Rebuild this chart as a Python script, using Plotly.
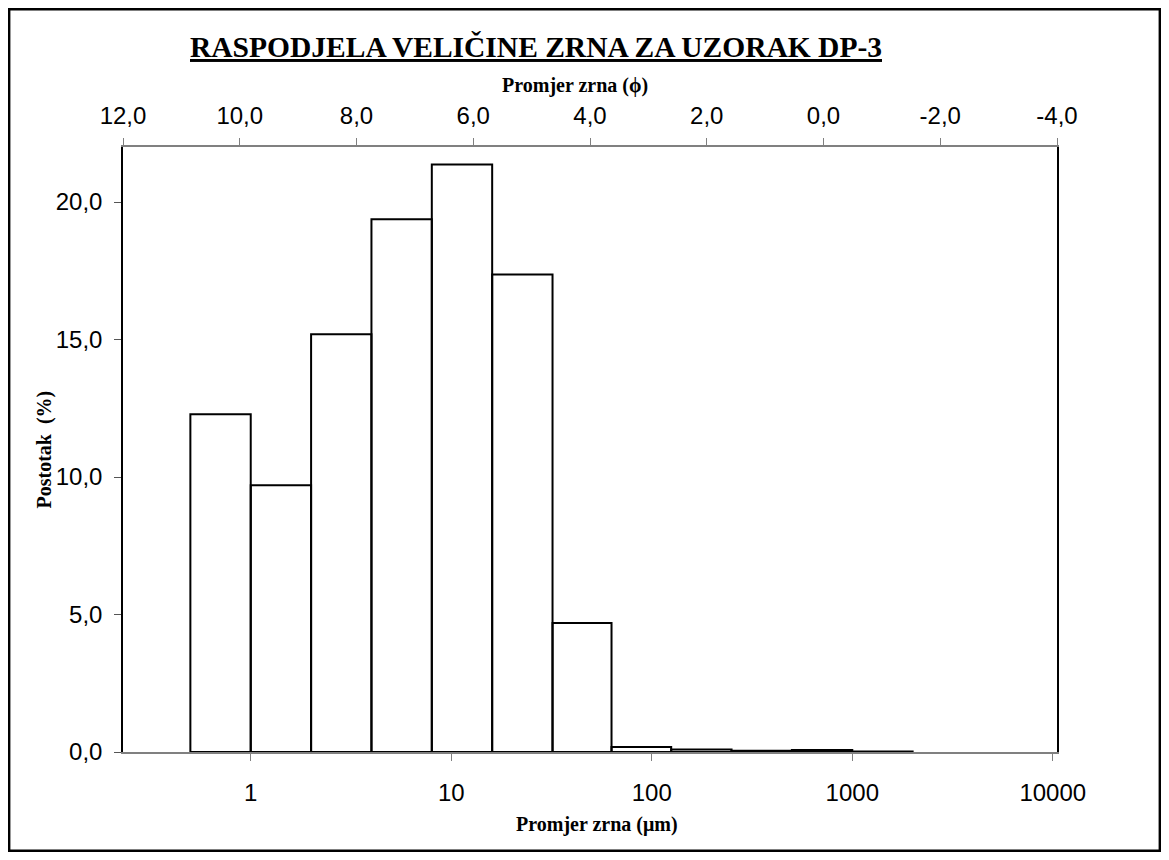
import plotly.graph_objects as go

# ---- data ----
bin_edges_um = [0.5, 1, 2, 4, 8, 16, 32, 63, 125, 250, 500, 1000, 2000]
percent = [12.28, 9.70, 15.19, 19.37, 21.36, 17.36, 4.69, 0.18, 0.09, 0.05, 0.07, 0.02]

um_ticks = [1, 10, 100, 1000, 10000]
um_ticklabels = ["1", "10", "100", "1000", "10000"]
phi_ticks = [12, 10, 8, 6, 4, 2, 0, -2, -4]
phi_ticklabels = ["12,0", "10,0", "8,0", "6,0", "4,0", "2,0", "0,0", "-2,0", "-4,0"]
pct_ticks = [0, 5, 10, 15, 20]

title_text = "RASPODJELA VELIČINE ZRNA ZA UZORAK DP-3"
x_title = "Promjer zrna (μm)"
x2_title = "Promjer zrna (ϕ)"
y_title = "Postotak  (%)"

# ---- build histogram outline from data ----
xs, ys = [], []
for i, v in enumerate(percent):
    lo, hi = bin_edges_um[i], bin_edges_um[i + 1]
    xs += [lo, lo, hi, hi, lo, None]
    ys += [0, v, v, 0, 0, None]

fig = go.Figure()
fig.add_trace(go.Scatter(
    x=xs, y=ys, mode="lines", fill="toself", fillcolor="white",
    line=dict(color="black", width=2), hoverinfo="skip", showlegend=False,
))
# invisible trace to anchor the phi axis
fig.add_trace(go.Scatter(x=[phi_ticks[0], phi_ticks[-1]], y=[None, None],
                         xaxis="x2", yaxis="y", mode="lines", showlegend=False,
                         hoverinfo="skip"))

OFF = 8  # page body margin
W, H = 1169 - 2 * OFF, 860 - 2 * OFF
L, R, T, B = 123, 1057, 147, 752  # plot area in screen pixels
pw, ph = R - L, B - T

def px(x):  # screen x -> paper
    return (x - L) / pw

def py(y):  # screen y -> paper
    return (B - y) / ph

def fx(f):  # figure x -> paper
    return (f - (L - OFF)) / pw

def fy(f):  # figure y -> paper
    return ((B - OFF) - f) / ph

tickfont = dict(family="Liberation Sans, Arial", size=24, color="black")
serif = "Liberation Serif, Times New Roman"

fig.update_layout(
    width=W, height=H,
    margin=dict(l=L - OFF, r=W - (R - OFF), t=T - OFF, b=H - (B - OFF), pad=0),
    paper_bgcolor="white", plot_bgcolor="white",
    separators=", ",
    showlegend=False,
    xaxis=dict(
        type="log", range=[-0.637, 4.021],
        tickvals=um_ticks, ticktext=um_ticklabels,
        ticks="outside", ticklen=7, tickcolor="#808080", tickwidth=1,
        showline=True, linecolor="#808080", linewidth=2,
        showgrid=False, zeroline=False, tickfont=tickfont,
        ticklabelstandoff=11,
    ),
    xaxis2=dict(
        overlaying="x", side="top", anchor="y",
        range=[12, -4], tickvals=phi_ticks, ticktext=phi_ticklabels,
        ticks="outside", ticklen=7, tickcolor="#808080", tickwidth=1,
        showline=True, linecolor="#808080", linewidth=2,
        showgrid=False, zeroline=False, tickfont=tickfont,
        ticklabelstandoff=4,
    ),
    yaxis=dict(
        range=[0, 22], tickvals=pct_ticks, tickformat=".1f",
        ticks="outside", ticklen=7, tickcolor="#555555", tickwidth=1,
        showline=True, linecolor="black", linewidth=1.5, mirror=True,
        showgrid=False, zeroline=False, tickfont=tickfont,
        ticklabelstandoff=7,
    ),
    shapes=[dict(type="rect", xref="paper", yref="paper",
                 x0=fx(1.2), x1=fx(W - 1.2), y0=fy(H - 1.2), y1=fy(1.2),
                 line=dict(color="black", width=2.4))],
    annotations=[
        dict(text=f"<b><u>{title_text}</u></b>", xref="paper", yref="paper",
             x=px(536), y=py(47), xanchor="center", yanchor="middle",
             showarrow=False,
             font=dict(family=serif, size=29.5, color="black")),
        dict(text=f"<b>{x2_title}</b>", xref="paper", yref="paper",
             x=px(575), y=py(86), xanchor="center", yanchor="middle",
             showarrow=False,
             font=dict(family=serif, size=20, color="black")),
        dict(text=f"<b>{x_title}</b>", xref="paper", yref="paper",
             x=px(597), y=py(824), xanchor="center", yanchor="middle",
             showarrow=False,
             font=dict(family=serif, size=20, color="black")),
        dict(text=f"<b>{y_title}</b>", xref="paper", yref="paper",
             x=px(44), y=0.5, xanchor="center", yanchor="middle",
             textangle=-90, showarrow=False,
             font=dict(family=serif, size=20, color="black")),
    ],
)

fig.write_html("out.html")
